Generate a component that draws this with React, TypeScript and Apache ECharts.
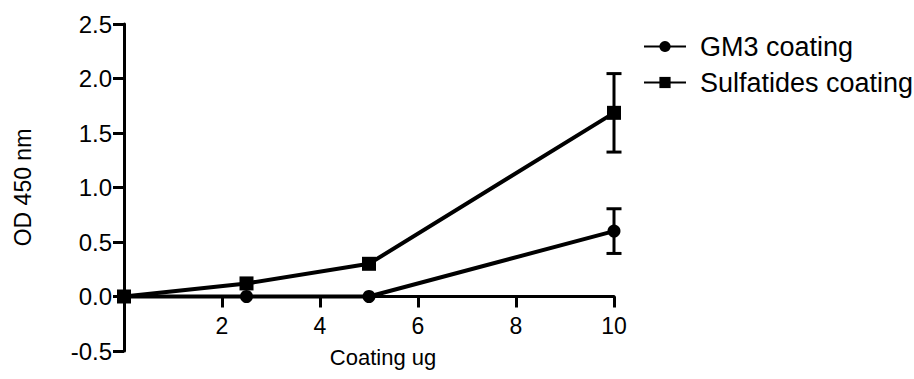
import React, { useEffect, useRef } from "react";
import * as echarts from "echarts";

const xValues = [0, 2.5, 5, 10];
const gm3Values = [0, 0, 0, 0.6];
const gm3Err = [0, 0, 0, 0.205];
const sulfValues = [0, 0.12, 0.3, 1.685];
const sulfErr = [0, 0, 0, 0.36];
const seriesNames = ["GM3 coating", "Sulfatides coating"];
const xTitle = "Coating ug";
const yTitle = "OD 450 nm";
const yMin = -0.5;
const yMax = 2.5;

const FONT = "'Liberation Sans', Arial, sans-serif";

const GRID_TOP = 24;
const GRID_BOTTOM = 28;
const CHART_H = 379;

function errData(vals: number[], errs: number[]) {
  return xValues
    .map((x, i) => [x, vals[i] - errs[i], vals[i] + errs[i]])
    .filter((d, i) => errs[i] > 0);
}

export default function App() {
  const ref = useRef<HTMLDivElement>(null);
  useEffect(() => {
    if (!ref.current) return;
    const chart = echarts.init(ref.current, null, { renderer: "svg" });
    const gridH = CHART_H - GRID_TOP - GRID_BOTTOM;
    // shift the x axis up so it sits at y = 0
    const xOffset = -(gridH * (0 - yMin)) / (yMax - yMin);
    const renderErr = (params: any, api: any) => {
      const x = api.value(0);
      const lo = api.coord([x, api.value(1)]);
      const hi = api.coord([x, api.value(2)]);
      const hw = 7.5;
      const style = { stroke: "#000", lineWidth: 3, fill: "none" };
      return {
        type: "group",
        children: [
          { type: "line", shape: { x1: lo[0], y1: lo[1], x2: hi[0], y2: hi[1] }, style },
          { type: "line", shape: { x1: lo[0] - hw, y1: lo[1], x2: lo[0] + hw, y2: lo[1] }, style },
          { type: "line", shape: { x1: hi[0] - hw, y1: hi[1], x2: hi[0] + hw, y2: hi[1] }, style },
        ],
      };
    };
    chart.setOption({
      animation: false,
      backgroundColor: "#fff",
      grid: {
        left: 124,
        right: 300,
        top: GRID_TOP,
        bottom: GRID_BOTTOM,
        containLabel: false,
        outerBoundsMode: "none",
      },
      legend: {
        data: seriesNames,
        left: 643,
        top: 33,
        padding: 0,
        orient: "vertical",
        itemWidth: 42,
        itemHeight: 14,
        itemGap: 9,
        textStyle: { fontFamily: FONT, fontSize: 27, color: "#000", padding: [0, 0, 0, 9] },
      },
      xAxis: {
        type: "value",
        min: 0,
        max: 10,
        interval: 2,
        offset: xOffset,
        axisLine: { onZero: false, lineStyle: { color: "#000", width: 3 } },
        axisTick: { inside: false, length: 11, lineStyle: { color: "#000", width: 3 } },
        axisLabel: {
          fontFamily: FONT,
          fontSize: 23,
          color: "#000",
          margin: 18,
          formatter: (v: number) => (v === 0 ? "" : String(v)),
        },
        splitLine: { show: false },
        name: xTitle,
        nameLocation: "middle",
        nameGap: 50,
        nameTextStyle: { fontFamily: FONT, fontSize: 22, color: "#000", padding: [0, 0, 0, 28] },
      },
      yAxis: {
        type: "value",
        min: yMin,
        max: yMax,
        interval: 0.5,
        axisLine: { onZero: false, lineStyle: { color: "#000", width: 3 } },
        axisTick: { inside: false, length: 11, lineStyle: { color: "#000", width: 3 } },
        axisLabel: {
          fontFamily: FONT,
          fontSize: 24,
          color: "#000",
          margin: 12,
          formatter: (v: number) => v.toFixed(1),
        },
        splitLine: { show: false },
        name: yTitle,
        nameLocation: "middle",
        nameGap: 90,
        nameTextStyle: { fontFamily: FONT, fontSize: 23, color: "#000" },
      },
      series: [
        {
          type: "custom",
          name: "gm3err",
          renderItem: renderErr,
          data: errData(gm3Values, gm3Err),
          z: 1,
          silent: true,
        },
        {
          type: "custom",
          name: "sulferr",
          renderItem: renderErr,
          data: errData(sulfValues, sulfErr),
          z: 1,
          silent: true,
        },
        {
          type: "line",
          name: seriesNames[0],
          data: xValues.map((x, i) => [x, gm3Values[i]]),
          symbol: "circle",
          symbolSize: 13,
          showAllSymbol: true,
          lineStyle: { color: "#000", width: 4 },
          itemStyle: { color: "#000" },
          z: 3,
        },
        {
          type: "line",
          name: seriesNames[1],
          data: xValues.map((x, i) => [x, sulfValues[i]]),
          symbol: "rect",
          symbolSize: 14,
          showAllSymbol: true,
          lineStyle: { color: "#000", width: 4 },
          itemStyle: { color: "#000" },
          z: 3,
        },
      ],
    });
    return () => chart.dispose();
  }, []);
  return <div ref={ref} style={{ width: 914, height: 379, position: "absolute", left: 0, top: 0 }} />;
}
